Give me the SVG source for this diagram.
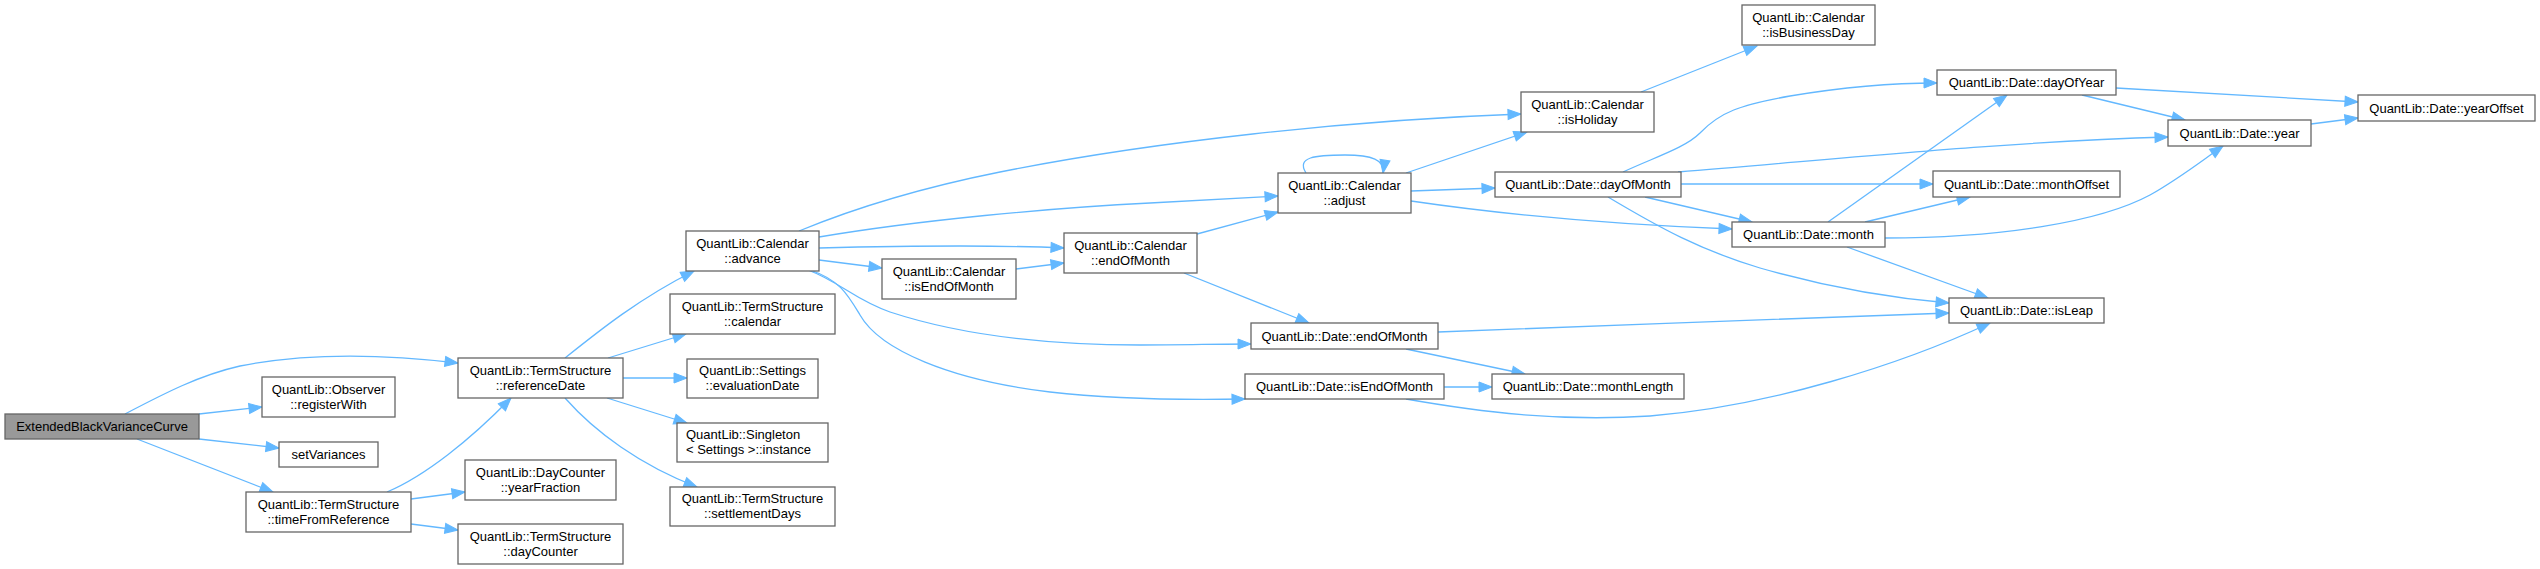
<svg xmlns="http://www.w3.org/2000/svg" width="2540" height="569" viewBox="0 0 2540 569">
<style>
.n rect{fill:#ffffff;stroke:#666666;stroke-width:1.3}
.n.root rect{fill:#999999}
.n text{font-family:"Liberation Sans",Arial,sans-serif;font-size:13px;fill:#000000;text-anchor:middle}
.n text.l{text-anchor:start}
.e path{fill:none;stroke:#63b8ff;stroke-width:1.3;marker-end:url(#a)}
</style>
<defs>
<marker id="a" markerUnits="userSpaceOnUse" markerWidth="16" markerHeight="12" refX="13" refY="5" orient="auto" overflow="visible">
<path d="M0,0 L13,5 L0,10 z" fill="#63b8ff" stroke="#63b8ff" stroke-width="1"/>
</marker>
</defs>
<rect width="2540" height="569" fill="#ffffff"/>
<g id="edges" class="e">
<path d="M125,414 C165,393 200,375 240,366 C320,350 400,356 458,363"/>
<path d="M199,414 L262,407"/>
<path d="M199,439 L279,448"/>
<path d="M137,439 L273,492"/>
<path d="M387,492 C425,476 470,440 511,398"/>
<path d="M411,499 L465,492"/>
<path d="M411,524 L458,530"/>
<path d="M565,358 C600,330 640,298 694,271"/>
<path d="M608,358 L686,334"/>
<path d="M623,378 L687,378"/>
<path d="M607,398 L687,423"/>
<path d="M565,398 C595,432 640,465 697,487"/>
<path d="M799,231 C850,210 920,188 1000,172 C1150,142 1350,120 1521,114"/>
<path d="M819,237 C920,220 1050,208 1150,203 C1200,200 1240,198 1278,196"/>
<path d="M819,248 C900,246 1000,245 1064,248"/>
<path d="M819,260 L882,268"/>
<path d="M808,270 C840,282 855,300 890,312 C960,335 1050,345 1140,345 C1180,345 1220,344 1251,344"/>
<path d="M810,270 C840,280 848,295 860,315 C880,350 950,380 1050,392 C1120,400 1190,400 1245,399"/>
<path d="M1016,269 L1064,263"/>
<path d="M1197,234 L1278,212"/>
<path d="M1184,273 L1309,323"/>
<path d="M1306,173 C1296,157 1315,155 1345,155 C1372,155 1385,160 1383,173"/>
<path d="M1406,173 L1527,132"/>
<path d="M1411,191 L1495,188"/>
<path d="M1411,201 C1500,214 1600,224 1732,229"/>
<path d="M1641,92 L1757,46"/>
<path d="M1623,172 C1655,157 1685,148 1700,133 C1720,112 1740,105 1790,96 C1850,86 1900,83 1937,83"/>
<path d="M1678,172 C1850,158 2000,142 2168,137"/>
<path d="M1681,184 L1933,184"/>
<path d="M1645,197 L1752,222"/>
<path d="M1608,197 C1660,228 1700,250 1760,268 C1830,288 1890,298 1949,303"/>
<path d="M2116,88 L2358,102"/>
<path d="M2082,95 L2185,120"/>
<path d="M1828,222 L2007,95"/>
<path d="M1865,222 L1970,197"/>
<path d="M1885,238 C2000,238 2100,222 2150,195 C2180,178 2200,162 2223,146"/>
<path d="M1847,247 L1988,298"/>
<path d="M1438,332 C1600,326 1800,318 1949,313"/>
<path d="M1406,349 L1525,374"/>
<path d="M1444,387 L1492,387"/>
<path d="M1406,399 C1480,412 1560,422 1650,416 C1770,406 1900,365 1990,323"/>
<path d="M2311,124 L2358,118"/>
</g>
<g id="n0" class="n root"><rect x="5" y="414" width="194" height="25"/><text x="102" y="431">ExtendedBlackVarianceCurve</text></g>
<g id="n1" class="n"><rect x="262" y="377" width="133" height="40"/><text x="328.5" y="393.5">QuantLib::Observer</text><text x="328.5" y="408.5">::registerWith</text></g>
<g id="n2" class="n"><rect x="279" y="442" width="99" height="25"/><text x="328.5" y="459">setVariances</text></g>
<g id="n3" class="n"><rect x="246" y="492" width="165" height="40"/><text x="328.5" y="508.5">QuantLib::TermStructure</text><text x="328.5" y="523.5">::timeFromReference</text></g>
<g id="n4" class="n"><rect x="458" y="358" width="165" height="40"/><text x="540.5" y="374.5">QuantLib::TermStructure</text><text x="540.5" y="389.5">::referenceDate</text></g>
<g id="n5" class="n"><rect x="465" y="460" width="151" height="40"/><text x="540.5" y="476.5">QuantLib::DayCounter</text><text x="540.5" y="491.5">::yearFraction</text></g>
<g id="n6" class="n"><rect x="458" y="524" width="165" height="40"/><text x="540.5" y="540.5">QuantLib::TermStructure</text><text x="540.5" y="555.5">::dayCounter</text></g>
<g id="n7" class="n"><rect x="686" y="231" width="133" height="40"/><text x="752.5" y="247.5">QuantLib::Calendar</text><text x="752.5" y="262.5">::advance</text></g>
<g id="n8" class="n"><rect x="670" y="294" width="165" height="40"/><text x="752.5" y="310.5">QuantLib::TermStructure</text><text x="752.5" y="325.5">::calendar</text></g>
<g id="n9" class="n"><rect x="687" y="359" width="131" height="39"/><text x="752.5" y="375">QuantLib::Settings</text><text x="752.5" y="390">::evaluationDate</text></g>
<g id="n10" class="n"><rect x="677" y="423" width="151" height="39"/><text class="l" x="686" y="439">QuantLib::Singleton</text><text class="l" x="686" y="454">&lt; Settings &gt;::instance</text></g>
<g id="n11" class="n"><rect x="670" y="487" width="165" height="39"/><text x="752.5" y="503">QuantLib::TermStructure</text><text x="752.5" y="518">::settlementDays</text></g>
<g id="n12" class="n"><rect x="882" y="259" width="134" height="40"/><text x="949" y="275.5">QuantLib::Calendar</text><text x="949" y="290.5">::isEndOfMonth</text></g>
<g id="n13" class="n"><rect x="1064" y="233" width="133" height="40"/><text x="1130.5" y="249.5">QuantLib::Calendar</text><text x="1130.5" y="264.5">::endOfMonth</text></g>
<g id="n14" class="n"><rect x="1278" y="173" width="133" height="40"/><text x="1344.5" y="189.5">QuantLib::Calendar</text><text x="1344.5" y="204.5">::adjust</text></g>
<g id="n15" class="n"><rect x="1521" y="92" width="133" height="40"/><text x="1587.5" y="108.5">QuantLib::Calendar</text><text x="1587.5" y="123.5">::isHoliday</text></g>
<g id="n16" class="n"><rect x="1742" y="5" width="133" height="40"/><text x="1808.5" y="21.5">QuantLib::Calendar</text><text x="1808.5" y="36.5">::isBusinessDay</text></g>
<g id="n17" class="n"><rect x="1495" y="172" width="186" height="25"/><text x="1588" y="189">QuantLib::Date::dayOfMonth</text></g>
<g id="n18" class="n"><rect x="1251" y="323" width="187" height="26"/><text x="1344.5" y="340.5">QuantLib::Date::endOfMonth</text></g>
<g id="n19" class="n"><rect x="1245" y="374" width="199" height="25"/><text x="1344.5" y="391">QuantLib::Date::isEndOfMonth</text></g>
<g id="n20" class="n"><rect x="1492" y="374" width="192" height="25"/><text x="1588" y="391">QuantLib::Date::monthLength</text></g>
<g id="n21" class="n"><rect x="1937" y="70" width="179" height="25"/><text x="2026.5" y="87">QuantLib::Date::dayOfYear</text></g>
<g id="n22" class="n"><rect x="1933" y="171" width="187" height="26"/><text x="2026.5" y="188.5">QuantLib::Date::monthOffset</text></g>
<g id="n23" class="n"><rect x="1732" y="222" width="153" height="25"/><text x="1808.5" y="239">QuantLib::Date::month</text></g>
<g id="n24" class="n"><rect x="1949" y="298" width="155" height="25"/><text x="2026.5" y="315">QuantLib::Date::isLeap</text></g>
<g id="n25" class="n"><rect x="2168" y="120" width="143" height="26"/><text x="2239.5" y="137.5">QuantLib::Date::year</text></g>
<g id="n26" class="n"><rect x="2358" y="95" width="177" height="26"/><text x="2446.5" y="112.5">QuantLib::Date::yearOffset</text></g>
</svg>
